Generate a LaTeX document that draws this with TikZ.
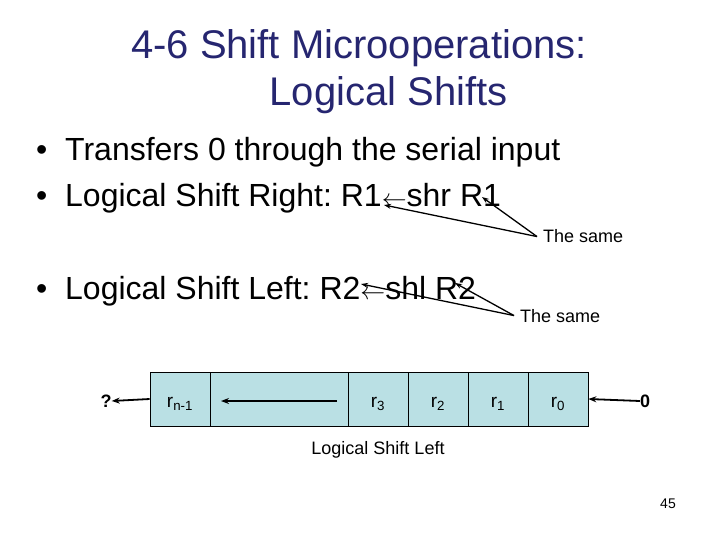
\documentclass[tikz,border=0pt]{standalone}
\usepackage{fontspec}
\setmainfont{Liberation Sans}
\usetikzlibrary{arrows.meta}
\definecolor{cellblue}{RGB}{186,224,228}
\definecolor{titleblue}{RGB}{38,38,112}
\tikzset{
  title/.style={font=\fontsize{40}{44}\selectfont, text=titleblue, inner sep=0pt},
  bullet/.style={font=\fontsize{32}{36}\selectfont\frenchspacing, inner sep=0pt, anchor=base west},
  small/.style={font=\fontsize{18}{20}\selectfont, inner sep=0pt},
  cell/.style={draw=black, fill=cellblue, line width=0.8pt, minimum height=54pt, inner sep=0pt},
  celltext/.style={font=\fontsize{19}{21}\selectfont, inner sep=0pt, anchor=base},
  note/.style={-{Stealth[length=7pt,width=5pt]}, line width=1.3pt},
  shiftarrow/.style={-{Stealth[length=8pt,width=6pt]}, line width=1.8pt}
}
\begin{document}
\begin{tikzpicture}[x=1pt,y=-1pt]
\useasboundingbox (0,0) rectangle (720,540);
% title
\node[title, anchor=base] (t1) at (359,59) {4-6 Shift Microoperations:};
\node[title, anchor=base] (t2) at (388.5,106) {Logical Shifts};
% bullets
\node[bullet] (b1d) at (36,161) {•};
\node[bullet] (b1) at (65,161) {Transfers 0 through the serial input};
\node[bullet] (b2d) at (36,207) {•};
\node[bullet] (b2) at (65,207) {Logical Shift Right: R1$\leftarrow$shr R1};
\node[bullet] (b3d) at (36,299) {•};
\node[bullet] (b3) at (65,299) {Logical Shift Left: R2$\leftarrow$shl R2};
% the same notes
\node[small, anchor=base west] (s1) at (543,243) {The same};
\node[small, anchor=base west] (s2) at (520,322) {The same};
\coordinate (p1a) at (384,205);
\coordinate (p1b) at (482,197);
\coordinate (p2a) at (361,284);
\coordinate (p2b) at (455,283);
\draw[note] (s1.west) ++(-6,0) coordinate (s1w) -- (p1a);
\draw[note] (s1w) -- (p1b);
\draw[note] (s2.west) ++(-6,0) coordinate (s2w) -- (p2a);
\draw[note] (s2w) -- (p2b);
% register
\node[cell, minimum width=60pt] (cn) at (180,399) {};
\node[cell, minimum width=138pt] (cm) at (279,399) {};
\node[cell, minimum width=60pt] (c3) at (378,399) {};
\node[cell, minimum width=60pt] (c2) at (438,399) {};
\node[cell, minimum width=60pt] (c1) at (498,399) {};
\node[cell, minimum width=60pt] (c0) at (558,399) {};
\node[celltext] (ln) at (180,407) {r\textsubscript{n-1}};
\node[celltext] (l3) at (378,407) {r\textsubscript{3}};
\node[celltext] (l2) at (438,407) {r\textsubscript{2}};
\node[celltext] (l1) at (498,407) {r\textsubscript{1}};
\node[celltext] (l0) at (558,407) {r\textsubscript{0}};
\node[small, font=\fontsize{18}{20}\selectfont\bfseries] (q) at (106,401) {?};
\node[small, font=\fontsize{18}{20}\selectfont\bfseries] (z) at (645,401) {0};
\draw[shiftarrow] (cn.west) -- (q.east);
\draw[shiftarrow] (z.west) -- (c0.east);
\coordinate (m1) at (337,401);
\coordinate (m2) at (221,401);
\draw[shiftarrow] (m1) -- (m2);
\node[small, anchor=base] (lab) at (378,454) {Logical Shift Left};
\node[small, font=\fontsize{14}{16}\selectfont, anchor=base] (pg) at (668,508) {45};
\end{tikzpicture}
\end{document}
